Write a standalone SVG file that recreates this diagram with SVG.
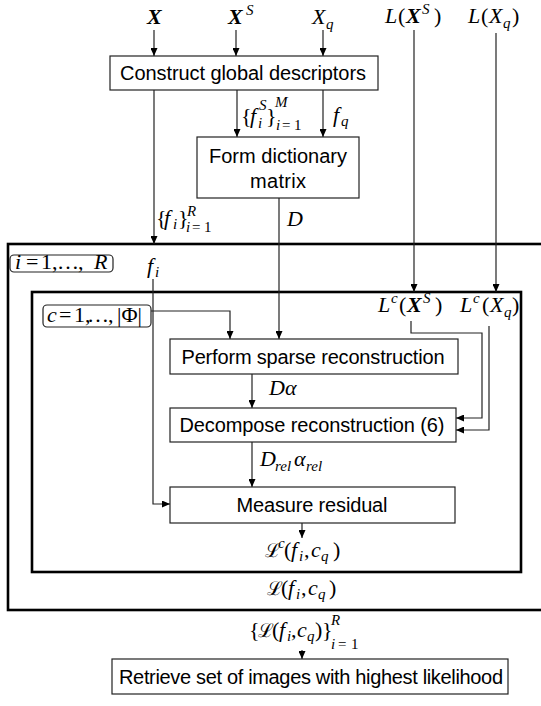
<svg xmlns="http://www.w3.org/2000/svg" width="541" height="706" viewBox="0 0 541 706">
<defs>
<marker id="ar" markerUnits="userSpaceOnUse" markerWidth="8" markerHeight="7" refX="8" refY="3.5" orient="auto">
<path d="M0,0 L8,3.5 L0,7 z" fill="#000"/>
</marker>
<style>
.box{fill:#fff;stroke:#222;stroke-width:1.2}
.rbox{fill:#fff;stroke:#222;stroke-width:1.2}
.frame{fill:none;stroke:#000;stroke-width:2.6}
.arr{fill:none;stroke:#222;stroke-width:1.2;marker-end:url(#ar)}
.t{font-family:"Liberation Sans",Arial,sans-serif;font-size:20px;text-anchor:middle;fill:#000}
.m{font-family:"Liberation Serif","DejaVu Serif",serif;font-style:italic;font-size:22px;fill:#000}
.up{font-style:normal}
.b{font-weight:bold}
.s{font-size:15px}
.cal{font-family:"DejaVu Serif",serif;font-style:normal;font-size:19px}
</style>
</defs>
<rect width="541" height="706" fill="#fff"/>

<g id="outer-loop">
<rect class="frame" x="8" y="244" width="560" height="366"/>
<rect class="rbox" x="10" y="255" width="103" height="17" rx="4"/>
<text class="m" font-size="19"><tspan x="15" y="269">i</tspan><tspan class="up" x="26" y="269">=</tspan><tspan class="up" x="41" y="269">1,</tspan><tspan class="up" x="57" y="269">…</tspan><tspan class="up" x="78" y="269">,</tspan><tspan x="94" y="269">R</tspan></text>
</g>
<g id="inner-loop">
<rect class="frame" x="32" y="292" width="489" height="280"/>
<rect class="rbox" x="43" y="305" width="108" height="22" rx="4"/>
<text class="m" font-size="19"><tspan x="47" y="322">c</tspan><tspan class="up" x="59" y="322">=</tspan><tspan class="up" x="74" y="322">1,</tspan><tspan class="up" x="87" y="322">…</tspan><tspan class="up" x="108" y="322">,</tspan><tspan class="up" x="117" y="322">|Φ|</tspan></text>
</g>

<g id="connectors">
<line class="arr" x1="154" y1="30" x2="154" y2="56"/>
<line class="arr" x1="236" y1="30" x2="236" y2="56"/>
<line class="arr" x1="323" y1="30" x2="323" y2="56"/>
<line class="arr" x1="154" y1="90" x2="154" y2="244"/>
<line class="arr" x1="237" y1="90" x2="237" y2="137"/>
<line class="arr" x1="323" y1="90" x2="323" y2="137"/>
<line class="arr" x1="279" y1="198" x2="279" y2="339"/>
<line class="arr" x1="414" y1="30" x2="414" y2="292"/>
<line class="arr" x1="496" y1="33" x2="496" y2="292"/>
<polyline class="arr" points="151,311 230,311 230,339"/>
<polyline class="arr" points="411,321 411,333 482,333 482,418 456,418"/>
<polyline class="arr" points="489,326 489,430 456,430"/>
<polyline class="arr" points="153,279 153,504 170,504"/>
<line class="arr" x1="252" y1="374" x2="252" y2="408"/>
<line class="arr" x1="252" y1="442" x2="252" y2="487"/>
<line class="arr" x1="302" y1="523" x2="302" y2="538"/>
<line class="arr" x1="302" y1="650" x2="302" y2="659"/>
</g>

<g id="input-X"><text class="m b" x="147" y="24">X</text></g>
<g id="input-XS"><text class="m"><tspan class="b" x="228" y="24">X</tspan><tspan class="s" x="246" y="15">S</tspan></text></g>
<g id="input-Xq"><text class="m"><tspan x="312" y="24">X</tspan><tspan class="s" x="326" y="29">q</tspan></text></g>
<g id="label-LXS"><text class="m"><tspan x="385" y="23">L</tspan><tspan class="up" x="398" y="23">(</tspan><tspan class="b" x="406" y="23">X</tspan><tspan class="s" x="422" y="14">S</tspan><tspan class="up" x="434" y="23">)</tspan></text></g>
<g id="label-LXq"><text class="m"><tspan x="468" y="23">L</tspan><tspan class="up" x="481" y="23">(</tspan><tspan x="489" y="23">X</tspan><tspan class="s" x="503" y="28">q</tspan><tspan class="up" x="512" y="23">)</tspan></text></g>

<g id="construct">
<rect class="box" x="110" y="56" width="268" height="34"/>
<text class="t" x="243" y="80" textLength="246">Construct global descriptors</text>
</g>
<g id="label-fS"><text class="m"><tspan class="up" x="241" y="123">{</tspan><tspan x="250" y="123">f</tspan><tspan class="s" x="259" y="110">S</tspan><tspan class="s" x="258" y="128">i</tspan><tspan class="up" x="266" y="123">}</tspan><tspan class="s" x="275" y="107">M</tspan><tspan class="s" x="276" y="130">i</tspan><tspan class="s up" x="282" y="130">=</tspan><tspan class="s up" x="294" y="130">1</tspan></text></g>
<g id="label-fq"><text class="m"><tspan x="333" y="122">f</tspan><tspan class="s" x="341" y="126">q</tspan></text></g>

<g id="dictionary">
<rect class="box" x="197" y="137" width="162" height="61"/>
<text class="t" x="278" y="163" textLength="138">Form dictionary</text>
<text class="t" x="278" y="188" textLength="56">matrix</text>
</g>
<g id="label-D"><text class="m" x="287" y="226">D</text></g>
<g id="label-fR"><text class="m"><tspan class="up" x="156" y="225">{</tspan><tspan x="164" y="225">f</tspan><tspan class="s" x="173" y="229">i</tspan><tspan class="up" x="178" y="225">}</tspan><tspan class="s" x="187" y="216">R</tspan><tspan class="s" x="186" y="232">i</tspan><tspan class="s up" x="192" y="232">=</tspan><tspan class="s up" x="204" y="232">1</tspan></text></g>
<g id="label-fi"><text class="m"><tspan x="147" y="273">f</tspan><tspan class="s" x="155" y="277">i</tspan></text></g>

<g id="label-LcXS"><text class="m"><tspan x="378" y="312">L</tspan><tspan class="s" x="391" y="303">c</tspan><tspan class="up" x="399" y="312">(</tspan><tspan class="b" x="407" y="312">X</tspan><tspan class="s" x="423" y="303">S</tspan><tspan class="up" x="435" y="312">)</tspan></text></g>
<g id="label-LcXq"><text class="m"><tspan x="460" y="312">L</tspan><tspan class="s" x="473" y="303">c</tspan><tspan class="up" x="482" y="312">(</tspan><tspan x="490" y="312">X</tspan><tspan class="s" x="504" y="317">q</tspan><tspan class="up" x="512" y="312">)</tspan></text></g>

<g id="sparse">
<rect class="box" x="170" y="339" width="288" height="35"/>
<text class="t" x="313" y="364" textLength="263">Perform sparse reconstruction</text>
</g>
<g id="label-Da"><text class="m" x="269" y="395">Dα</text></g>
<g id="decompose">
<rect class="box" x="170" y="408" width="286" height="34"/>
<text class="t" x="312" y="432" textLength="265">Decompose reconstruction (6)</text>
</g>
<g id="label-Drel"><text class="m"><tspan x="260" y="466">D</tspan><tspan class="s" x="275" y="471">rel</tspan><tspan x="294" y="466">α</tspan><tspan class="s" x="306" y="471">rel</tspan></text></g>
<g id="residual">
<rect class="box" x="170" y="487" width="285" height="36"/>
<text class="t" x="312" y="512" textLength="151">Measure residual</text>
</g>
<g id="label-Lc"><text class="m"><tspan class="cal" x="265" y="557">ℒ</tspan><tspan class="s" x="278" y="548">c</tspan><tspan class="up" x="284" y="557">(</tspan><tspan x="291" y="557">f</tspan><tspan class="s" x="299" y="561">i</tspan><tspan class="up" x="304" y="557">,</tspan><tspan x="311" y="557">c</tspan><tspan class="s" x="321" y="561">q</tspan><tspan class="up" x="333" y="557">)</tspan></text></g>
<g id="label-L"><text class="m"><tspan class="cal" x="267" y="595">ℒ</tspan><tspan class="up" x="281" y="595">(</tspan><tspan x="288" y="595">f</tspan><tspan class="s" x="296" y="599">i</tspan><tspan class="up" x="301" y="595">,</tspan><tspan x="308" y="595">c</tspan><tspan class="s" x="318" y="599">q</tspan><tspan class="up" x="329" y="595">)</tspan></text></g>
<g id="label-LR"><text class="m"><tspan class="up" x="249" y="637">{</tspan><tspan class="cal" x="258" y="637">ℒ</tspan><tspan class="up" x="272" y="637">(</tspan><tspan x="279" y="637">f</tspan><tspan class="s" x="287" y="641">i</tspan><tspan class="up" x="291" y="637">,</tspan><tspan x="297" y="637">c</tspan><tspan class="s" x="307" y="641">q</tspan><tspan class="up" x="315" y="637">)</tspan><tspan class="up" x="322" y="637">}</tspan><tspan class="s" x="331" y="625">R</tspan><tspan class="s" x="331" y="649">i</tspan><tspan class="s up" x="338" y="649">=</tspan><tspan class="s up" x="351" y="649">1</tspan></text></g>
<g id="retrieve">
<rect class="box" x="112" y="659" width="396" height="35"/>
<text class="t" x="311" y="684" textLength="384">Retrieve set of images with highest likelihood</text>
</g>
</svg>
